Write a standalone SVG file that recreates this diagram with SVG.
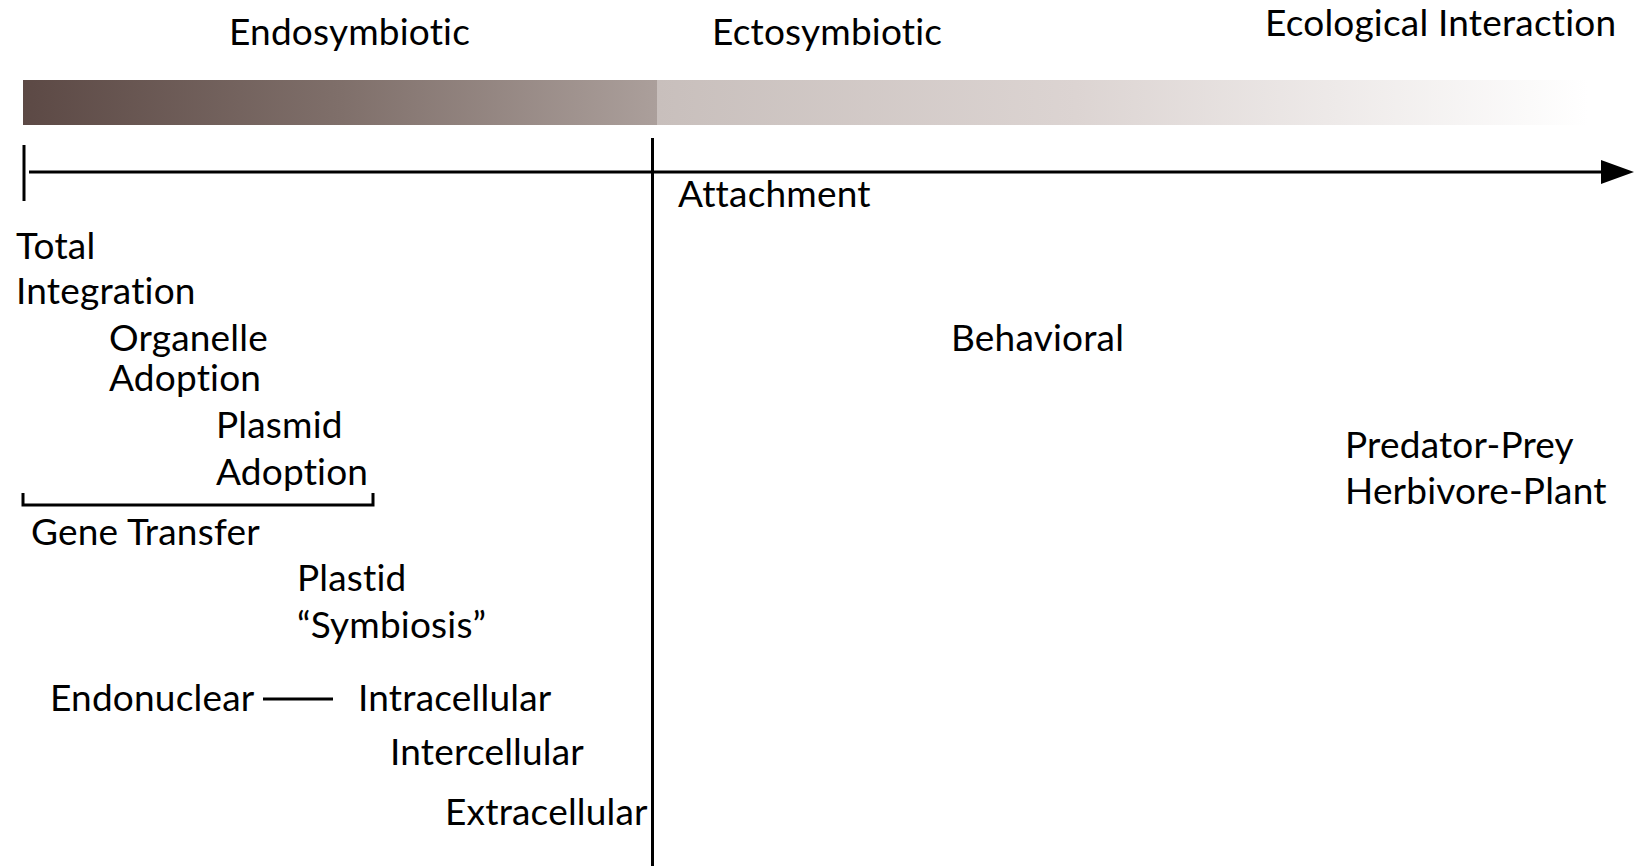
<svg xmlns="http://www.w3.org/2000/svg" width="1634" height="866" viewBox="0 0 1634 866">
<style>
  text { font-family: Lato, "Open Sans", "Liberation Sans", sans-serif; font-size: 37px; fill: #000; font-variant-ligatures: none; font-feature-settings: "liga" 0; letter-spacing: 0.2px; }
  .ln { stroke: #000; stroke-width: 3; fill: none; }
</style>
<defs>
  <linearGradient id="gEndo" x1="0" y1="0" x2="1" y2="0">
    <stop offset="0" stop-color="#5c4945"/>
    <stop offset="0.5" stop-color="#7f6f6a"/>
    <stop offset="1" stop-color="#ab9f9b"/>
  </linearGradient>
  <linearGradient id="gEcto" x1="0" y1="0" x2="1" y2="0">
    <stop offset="0" stop-color="#c8bfbc"/>
    <stop offset="0.45" stop-color="#dcd4d2"/>
    <stop offset="1" stop-color="#ffffff"/>
  </linearGradient>
  <marker id="arrow" markerWidth="11" markerHeight="8" refX="0" refY="4" orient="auto" markerUnits="strokeWidth">
    <path d="M0,0 L11,4 L0,8 Z" fill="#000"/>
  </marker>
</defs>
<rect width="1634" height="866" fill="#fff"/>

<g id="bar">
  <rect x="23" y="80" width="634" height="45" fill="url(#gEndo)"/>
  <rect x="657" y="80" width="931" height="45" fill="url(#gEcto)"/>
</g>

<g id="connectors">
  <line class="ln" x1="24" y1="145" x2="24" y2="201"/>
  <line class="ln" x1="29" y1="172" x2="1601" y2="172" marker-end="url(#arrow)"/>
  <line class="ln" x1="652.5" y1="138" x2="652.5" y2="866"/>
  <path class="ln" d="M23,493 V505 H373 V493"/>
  <line class="ln" x1="263" y1="699" x2="333" y2="699"/>
</g>

<g id="headers">
  <text id="endosymbiotic" x="229" y="45">Endosymbiotic</text>
  <text id="ectosymbiotic" x="712" y="45">Ectosymbiotic</text>
  <text id="ecological" x="1265" y="36">Ecological Interaction</text>
</g>

<g id="total-integration"><text x="16" y="259">Total</text><text x="16" y="304">Integration</text></g>
<g id="organelle-adoption"><text x="109" y="351">Organelle</text><text x="109" y="391">Adoption</text></g>
<g id="plasmid-adoption"><text x="216" y="438">Plasmid</text><text x="216" y="485">Adoption</text></g>
<g id="gene-transfer"><text x="31" y="545">Gene Transfer</text></g>
<g id="plastid"><text x="297" y="591">Plastid</text><text x="297" y="638">“Symbiosis”</text></g>
<g id="endonuclear"><text x="50" y="711">Endonuclear</text></g>
<g id="intracellular"><text x="358" y="711">Intracellular</text></g>
<g id="intercellular"><text x="390" y="765">Intercellular</text></g>
<g id="extracellular"><text x="445" y="825">Extracellular</text></g>
<g id="attachment"><text x="678" y="207">Attachment</text></g>
<g id="behavioral"><text x="951" y="351">Behavioral</text></g>
<g id="predator"><text x="1345" y="458">Predator-Prey</text><text x="1345" y="504">Herbivore-Plant</text></g>
</svg>
